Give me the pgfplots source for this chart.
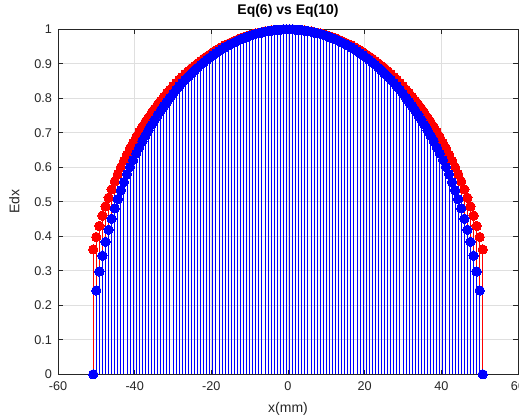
\documentclass[border=0pt]{standalone}
\usepackage{fontspec}
\setmainfont{Liberation Sans}
\usepackage{pgfplots}
\pgfplotsset{compat=1.18}
\usepackage{pgfplotstable}
\usetikzlibrary{calc}

\definecolor{axgray}{RGB}{38,38,38}

% x in mm, r = Eq(6), b = Eq(10)
\pgfplotstableread{
x r b
-50.8 0.362 0
-50.0 0.398 0.243
-49.2 0.430 0.298
-48.4 0.460 0.344
-47.6 0.487 0.384
-46.8 0.512 0.419
-46.0 0.536 0.451
-45.2 0.559 0.481
-44.4 0.580 0.508
-43.6 0.600 0.534
-42.8 0.619 0.557
-42.0 0.637 0.580
-41.2 0.655 0.601
-40.4 0.671 0.621
-39.6 0.687 0.640
-38.8 0.702 0.658
-38.0 0.717 0.676
-37.2 0.731 0.692
-36.4 0.744 0.708
-35.6 0.757 0.723
-34.8 0.770 0.738
-34.0 0.782 0.752
-33.2 0.793 0.765
-32.4 0.804 0.778
-31.6 0.815 0.790
-30.8 0.825 0.802
-30.0 0.835 0.813
-29.2 0.844 0.824
-28.4 0.854 0.835
-27.6 0.862 0.845
-26.8 0.871 0.854
-26.0 0.879 0.863
-25.2 0.887 0.872
-24.4 0.894 0.881
-23.6 0.901 0.889
-22.8 0.908 0.897
-22.0 0.915 0.904
-21.2 0.921 0.912
-20.4 0.927 0.918
-19.6 0.933 0.925
-18.8 0.939 0.931
-18.0 0.944 0.937
-17.2 0.949 0.943
-16.4 0.954 0.948
-15.6 0.958 0.953
-14.8 0.962 0.958
-14.0 0.966 0.962
-13.2 0.970 0.967
-12.4 0.974 0.971
-11.6 0.977 0.974
-10.8 0.980 0.978
-10.0 0.983 0.981
-9.2 0.986 0.984
-8.4 0.988 0.987
-7.6 0.990 0.989
-6.8 0.992 0.991
-6.0 0.994 0.993
-5.2 0.995 0.995
-4.4 0.997 0.996
-3.6 0.998 0.998
-2.8 0.999 0.999
-2.0 0.999 0.999
-1.2 1.000 1.000
-0.4 1.000 1.000
0.4 1.000 1.000
1.2 1.000 1.000
2.0 0.999 0.999
2.8 0.999 0.999
3.6 0.998 0.998
4.4 0.997 0.996
5.2 0.995 0.995
6.0 0.994 0.993
6.8 0.992 0.991
7.6 0.990 0.989
8.4 0.988 0.987
9.2 0.986 0.984
10.0 0.983 0.981
10.8 0.980 0.978
11.6 0.977 0.974
12.4 0.974 0.971
13.2 0.970 0.967
14.0 0.966 0.962
14.8 0.962 0.958
15.6 0.958 0.953
16.4 0.954 0.948
17.2 0.949 0.943
18.0 0.944 0.937
18.8 0.939 0.931
19.6 0.933 0.925
20.4 0.927 0.918
21.2 0.921 0.912
22.0 0.915 0.904
22.8 0.908 0.897
23.6 0.901 0.889
24.4 0.894 0.881
25.2 0.887 0.872
26.0 0.879 0.863
26.8 0.871 0.854
27.6 0.862 0.845
28.4 0.854 0.835
29.2 0.844 0.824
30.0 0.835 0.813
30.8 0.825 0.802
31.6 0.815 0.790
32.4 0.804 0.778
33.2 0.793 0.765
34.0 0.782 0.752
34.8 0.770 0.738
35.6 0.757 0.723
36.4 0.744 0.708
37.2 0.731 0.692
38.0 0.717 0.676
38.8 0.702 0.658
39.6 0.687 0.640
40.4 0.671 0.621
41.2 0.655 0.601
42.0 0.637 0.580
42.8 0.619 0.557
43.6 0.600 0.534
44.4 0.580 0.508
45.2 0.559 0.481
46.0 0.536 0.451
46.8 0.512 0.419
47.6 0.487 0.384
48.4 0.460 0.344
49.2 0.430 0.298
50.0 0.398 0.243
50.8 0.362 0
}\edxdata

\begin{document}
\begin{tikzpicture}
\begin{axis}[
  name=ax,
  scale only axis,
  width=345pt, height=258.75pt,
  xmin=-60, xmax=60, ymin=0, ymax=1,
  xtick={-60,-40,-20,0,20,40,60},
  ytick={0,0.1,0.2,0.3,0.4,0.5,0.6,0.7,0.8,0.9,1},
  yticklabels={0,0.1,0.2,0.3,0.4,0.5,0.6,0.7,0.8,0.9,1},
  /pgf/number format/assume math mode=true,
  tick align=inside,
  major tick length=3.5pt,
  grid=major,
  grid style={gray!25, line width=0.5pt},
  axis line style={axgray, line width=0.6pt},
  tick style={axgray, line width=0.5pt},
  ticklabel style={font=\fontsize{9.5}{11}\selectfont, text=axgray},
  xticklabel style={yshift=-2pt},
  yticklabel style={xshift=-1pt},
  xlabel={x(mm)},
  ylabel={Edx},
  label style={font=\fontsize{10.5}{12}\selectfont, text=axgray},
  xlabel style={at={(axis description cs:0.5,-0.1015)}, anchor=center},
  ylabel style={at={(axis description cs:-0.095,0.5)}, anchor=center},
  title={Eq(6) vs Eq(10)},
  title style={at={(axis description cs:0.5,1.021)}, anchor=base,
    font=\bfseries\fontsize{10.5}{12}\selectfont},
  clip=false,
]
\addplot[red, ycomb, line width=0.75pt, mark=*, mark size=3.5pt,
  mark options={fill=red, draw=red, line width=0pt}] table[x=x, y=r] {\edxdata};
\addplot[blue, ycomb, line width=0.75pt, mark=*, mark size=3.5pt,
  mark options={fill=blue, draw=blue, line width=0pt}] table[x=x, y=b] {\edxdata};
\end{axis}
\pgfresetboundingbox
\path[use as bounding box] ($(ax.south west)+(-43.5pt,-32.25pt)$) rectangle ($(ax.north east)+(0.75pt,22pt)$);
\end{tikzpicture}
\end{document}
